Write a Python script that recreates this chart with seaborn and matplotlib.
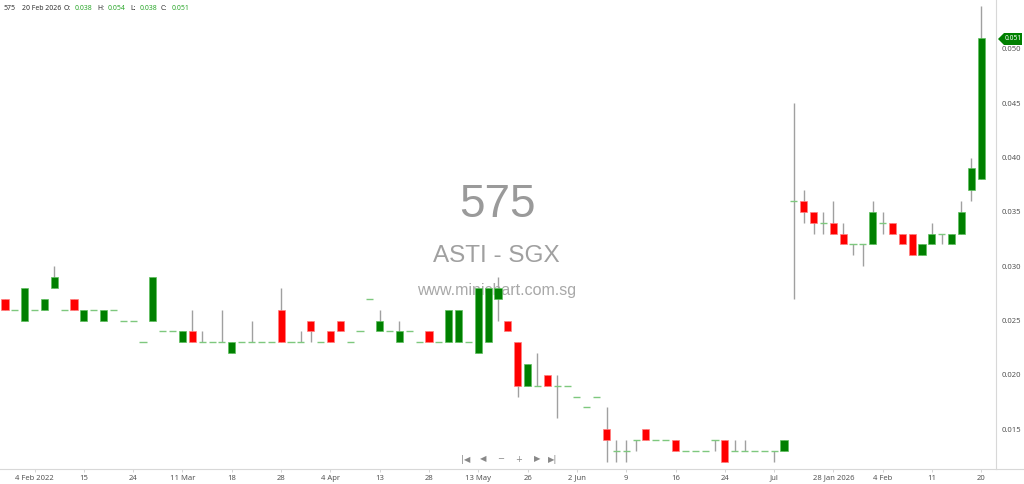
import pandas as pd
import seaborn as sns
import matplotlib.pyplot as plt
from matplotlib.patches import Polygon
from matplotlib.lines import Line2D

# daily OHLC for stock 575 (ASTI - SGX), one row per trading day shown
opens = [0.027, 0.026, 0.025, 0.026, 0.026, 0.028, 0.026, 0.027, 0.025, 0.026,
         0.025, 0.026, 0.025, 0.025, 0.023, 0.025, 0.024, 0.024, 0.023, 0.024,
         0.023, 0.023, 0.023, 0.022, 0.023, 0.023, 0.023, 0.023, 0.026, 0.023,
         0.023, 0.025, 0.023, 0.024, 0.025, 0.023, 0.024, 0.027, 0.024, 0.024,
         0.023, 0.024, 0.023, 0.024, 0.023, 0.023, 0.023, 0.023, 0.022, 0.023,
         0.027, 0.025, 0.023, 0.019, 0.019, 0.020, 0.019, 0.019, 0.018, 0.017,
         0.018, 0.015, 0.013, 0.013, 0.014, 0.015, 0.014, 0.014, 0.014, 0.013,
         0.013, 0.013, 0.014, 0.014, 0.013, 0.013, 0.013, 0.013, 0.013, 0.013,
         0.036, 0.036, 0.035, 0.034, 0.034, 0.033, 0.032, 0.032, 0.032, 0.034,
         0.034, 0.033, 0.033, 0.031, 0.032, 0.033, 0.032, 0.033, 0.037, 0.038]
highs = [0.027, 0.026, 0.028, 0.026, 0.027, 0.030, 0.026, 0.027, 0.026, 0.026,
         0.026, 0.026, 0.025, 0.025, 0.023, 0.029, 0.024, 0.024, 0.024, 0.026,
         0.024, 0.023, 0.026, 0.023, 0.023, 0.025, 0.023, 0.023, 0.028, 0.023,
         0.024, 0.025, 0.023, 0.024, 0.025, 0.023, 0.024, 0.027, 0.026, 0.024,
         0.025, 0.024, 0.023, 0.024, 0.023, 0.026, 0.026, 0.023, 0.028, 0.028,
         0.029, 0.025, 0.023, 0.021, 0.022, 0.020, 0.020, 0.019, 0.018, 0.017,
         0.018, 0.017, 0.014, 0.014, 0.014, 0.015, 0.014, 0.014, 0.014, 0.013,
         0.013, 0.013, 0.014, 0.014, 0.014, 0.014, 0.013, 0.013, 0.013, 0.014,
         0.045, 0.037, 0.035, 0.035, 0.036, 0.034, 0.032, 0.032, 0.036, 0.035,
         0.034, 0.033, 0.033, 0.032, 0.034, 0.033, 0.033, 0.036, 0.040, 0.054]
lows = [0.026, 0.026, 0.025, 0.026, 0.026, 0.028, 0.026, 0.026, 0.025, 0.026,
        0.025, 0.026, 0.025, 0.025, 0.023, 0.025, 0.024, 0.024, 0.023, 0.023,
        0.023, 0.023, 0.023, 0.022, 0.023, 0.023, 0.023, 0.023, 0.023, 0.023,
        0.023, 0.023, 0.023, 0.023, 0.024, 0.023, 0.024, 0.027, 0.024, 0.024,
        0.023, 0.024, 0.023, 0.023, 0.023, 0.023, 0.023, 0.023, 0.022, 0.023,
        0.025, 0.024, 0.018, 0.019, 0.019, 0.019, 0.016, 0.019, 0.018, 0.017,
        0.018, 0.012, 0.012, 0.012, 0.013, 0.014, 0.014, 0.014, 0.013, 0.013,
        0.013, 0.013, 0.013, 0.012, 0.013, 0.013, 0.013, 0.013, 0.012, 0.013,
        0.027, 0.034, 0.033, 0.033, 0.033, 0.032, 0.031, 0.030, 0.032, 0.033,
        0.033, 0.032, 0.031, 0.031, 0.032, 0.032, 0.032, 0.033, 0.036, 0.038]
closes = [0.026, 0.026, 0.028, 0.026, 0.027, 0.029, 0.026, 0.026, 0.026, 0.026,
          0.026, 0.026, 0.025, 0.025, 0.023, 0.029, 0.024, 0.024, 0.024, 0.023,
          0.023, 0.023, 0.023, 0.023, 0.023, 0.023, 0.023, 0.023, 0.023, 0.023,
          0.023, 0.024, 0.023, 0.023, 0.024, 0.023, 0.024, 0.027, 0.025, 0.024,
          0.024, 0.024, 0.023, 0.023, 0.023, 0.026, 0.026, 0.023, 0.028, 0.028,
          0.028, 0.024, 0.019, 0.021, 0.019, 0.019, 0.019, 0.019, 0.018, 0.017,
          0.018, 0.014, 0.013, 0.013, 0.014, 0.014, 0.014, 0.014, 0.013, 0.013,
          0.013, 0.013, 0.014, 0.012, 0.013, 0.013, 0.013, 0.013, 0.013, 0.014,
          0.036, 0.035, 0.034, 0.034, 0.033, 0.032, 0.032, 0.032, 0.035, 0.034,
          0.033, 0.032, 0.031, 0.032, 0.033, 0.033, 0.033, 0.035, 0.039, 0.051]

tick_pos = [3, 8, 13, 18, 23, 28, 33, 38, 43, 48, 53, 58, 63, 68, 73, 78, 84, 89, 94, 99]
tick_labels = ['4 Feb 2022', '15', '24', '11 Mar', '18', '28', '4 Apr', '13', '28', '13 May',
               '26', '2 Jun', '9', '16', '24', 'Jul', '28 Jan 2026', '4 Feb', '11', '20']
price_ticks = [0.015, 0.020, 0.025, 0.030, 0.035, 0.040, 0.045, 0.050]
last_date = '20 Feb 2026'

GREEN = '#008000'
RED = '#ff0000'

df = pd.DataFrame({'open': opens, 'high': highs, 'low': lows, 'close': closes})
df['i'] = range(len(df))
df['bottom'] = df[['open', 'close']].min(axis=1)
df['height'] = (df['close'] - df['open']).abs()

sns.set_style('white')
plt.rcParams['font.family'] = ['Noto Sans', 'DejaVu Sans']

W, H = 1024, 484
fig = plt.figure(figsize=(W / 100, H / 100), dpi=100)
ax = fig.add_axes([0, 15 / H, 996 / W, 469 / H])

# watermark
ax.text(0.499, 0.563, '575', transform=ax.transAxes, ha='center', va='center',
        fontsize=33, color='#9a9a9a', family='Liberation Sans', zorder=0)
ax.text(0.498, 0.454, 'ASTI - SGX', transform=ax.transAxes, ha='center', va='center',
        fontsize=17.5, color='#a0a0a0', family='Liberation Sans', zorder=0)
ax.text(0.499, 0.381, 'www.minichart.com.sg', transform=ax.transAxes, ha='center', va='center',
        fontsize=11.5, color='#a8a8a8', family='Liberation Sans', zorder=0)

# wicks
wk = df[df['high'] > df['low']]
ax.vlines(wk['i'], wk['low'], wk['high'], color='#a0a0a0', lw=1, zorder=2)

# bodies
up = df[df['close'] > df['open']]
dn = df[df['close'] < df['open']]
ax.bar(up['i'], up['height'], bottom=up['bottom'], width=0.72, color=GREEN,
       edgecolor='#5fbf5f', lw=0.5, zorder=3)
ax.bar(dn['i'], dn['height'], bottom=dn['bottom'], width=0.72, color=RED,
       edgecolor='#ff8080', lw=0.5, zorder=3)
flat = df[df['close'] == df['open']]
ax.hlines(flat['close'], flat['i'] - 0.36, flat['i'] + 0.36, color='#7ec87e', lw=1, zorder=3)

ax.set_xlim(-0.507, 100.5)
ax.set_ylim(0.01133, 0.05451)

ax.set_xticks(tick_pos)
ax.set_xticklabels(tick_labels)
ax.set_yticks(price_ticks)
ax.set_yticklabels([f'{v:.3f}' for v in price_ticks])
ax.yaxis.tick_right()
ax.tick_params(axis='x', length=2, width=0.6, color='#cccccc', pad=2,
               labelsize=5.5, labelcolor='#555555', bottom=True)
ax.tick_params(axis='y', length=2.5, width=0.6, color='#cccccc', pad=1.5,
               labelsize=5.5, labelcolor='#555555', right=True, left=False)
ax.set_xlabel('')
ax.set_ylabel('')
sns.despine(ax=ax, left=True, top=True, right=False, bottom=False)
for s in ['bottom', 'right']:
    ax.spines[s].set_color('#d8d8d8')
    ax.spines[s].set_linewidth(0.8)

# bottom line runs to the figure edge
fig.add_artist(Line2D([996 / W, 1], [15 / H, 15 / H], color='#d8d8d8', lw=0.8))

# last price tag
last = closes[-1]
ty = 1 - 39 / H
tag = Polygon([(998 / W, ty), (1004 / W, ty + 6 / H), (1022 / W, ty + 6 / H),
               (1022 / W, ty - 6 / H), (1004 / W, ty - 6 / H)],
              closed=True, transform=fig.transFigure, fc=GREEN, ec='none', zorder=5)
fig.add_artist(tag)
fig.text(1013 / W, ty, f'{last:.3f}', ha='center', va='center', fontsize=4.8,
         color='white', zorder=6)

# navigation icons
nav = ['|◀', '◀', '−', '+', '▶', '▶|']
nav_x = [466, 483, 501, 519, 537, 553]
for s, x in zip(nav, nav_x):
    fig.text(x / W, 1 - 459 / H, s, ha='center', va='center', fontsize=6,
             color='#888888', family='DejaVu Sans')

# header
hy = 1 - 9 / H
fig.text(4 / W, hy, '575', fontsize=5, color='#333333', va='center')
fig.text(22 / W, hy, last_date, fontsize=5, color='#333333', va='center')
parts = [('O:', opens[-1], 64, 75), ('H:', highs[-1], 97, 108),
         ('L:', lows[-1], 130, 140), ('C:', closes[-1], 161, 172)]
for lab, val, lx, vx in parts:
    fig.text(lx / W, hy, lab, fontsize=5, color='#333333', va='center')
    fig.text(vx / W, hy, f'{val:.3f}', fontsize=5, color='#2ea82e', va='center')

fig.savefig('out.png', dpi=100)
